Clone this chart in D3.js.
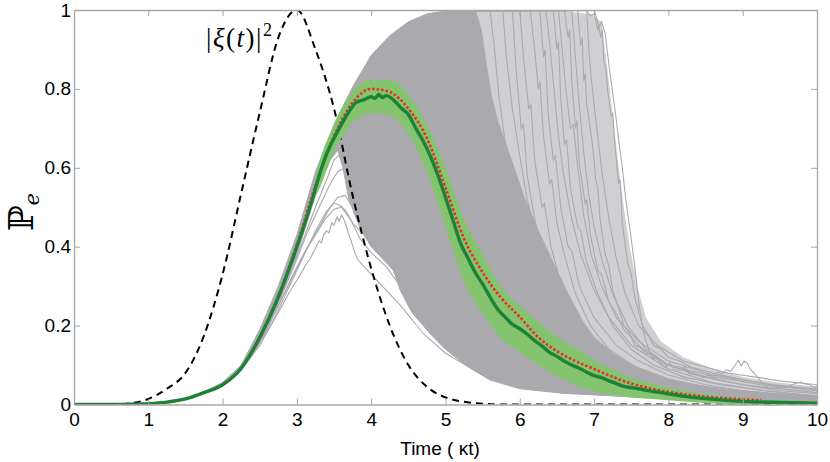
<!DOCTYPE html>
<html>
<head>
<meta charset="utf-8">
<script src="https://cdn.jsdelivr.net/npm/d3@7/dist/d3.min.js"></script>
<style>
  body { margin: 0; background: #fff; }
</style>
</head>
<body>
<div id="chart"></div>
<script>
var width = 830;
var height = 462;

// photon pulse |xi(t)|^2 (dashed)
var xiTime = [0, 0.25, 0.5, 0.75, 1, 1.25, 1.5, 1.75, 2, 2.25, 2.5, 2.75, 3, 3.25, 3.5, 3.75, 4, 4.25, 4.5, 4.75, 5, 5.25, 5.5, 5.75, 6, 7, 8, 9, 10];
var xiVal = [0, 0, 0, 0.003, 0.014, 0.04, 0.08, 0.175, 0.33, 0.535, 0.74, 0.93, 1.0, 0.9, 0.75, 0.53, 0.345, 0.2, 0.1, 0.045, 0.018, 0.007, 0.002, 0, 0, 0, 0, 0, 0];

// ensemble average of the trajectories (dark green)
var meanTime = [0, 0.5, 0.75, 1, 1.25, 1.5, 1.75, 2, 2.25, 2.5, 2.75, 3.0, 3.1, 3.2, 3.3, 3.4, 3.5, 3.6, 3.7, 3.8, 3.9, 4.0, 4.05, 4.1, 4.15, 4.2, 4.3, 4.4, 4.5, 4.6, 4.7, 4.8, 4.9, 5.0, 5.1, 5.2, 5.3, 5.4, 5.5, 5.6, 5.7, 5.8, 5.9, 6.0, 6.1, 6.2, 6.3, 6.4, 6.5, 6.6, 6.7, 6.8, 6.9, 7.0, 7.1, 7.2, 7.3, 7.4, 7.5, 7.6, 7.7, 7.8, 7.9, 8.0, 8.25, 8.5, 8.75, 9.0, 9.5, 10];
var meanVal = [0, 0, 0.0005, 0.002, 0.006, 0.014, 0.03, 0.05, 0.092, 0.17, 0.272, 0.4, 0.455, 0.515, 0.58, 0.635, 0.675, 0.71, 0.742, 0.766, 0.772, 0.78, 0.776, 0.786, 0.778, 0.783, 0.772, 0.752, 0.735, 0.7, 0.668, 0.628, 0.58, 0.525, 0.468, 0.41, 0.372, 0.335, 0.305, 0.272, 0.242, 0.222, 0.203, 0.192, 0.178, 0.162, 0.148, 0.132, 0.122, 0.11, 0.1, 0.092, 0.082, 0.073, 0.068, 0.06, 0.053, 0.046, 0.043, 0.04, 0.036, 0.033, 0.03, 0.027, 0.02, 0.015, 0.011, 0.008, 0.005, 0.003];

// spread around the average (light green band half width)
var bandTime = [3.2, 3.25, 3.5, 3.75, 4.0, 4.25, 4.5, 4.75, 5.0, 5.25, 5.5, 5.75, 6.0, 6.25, 6.5, 6.75, 7.0, 7.25, 7.5, 7.75, 8.0, 8.5, 9.0, 9.5, 10];
var bandHalf = [0, 0.02, 0.035, 0.04, 0.042, 0.045, 0.05, 0.06, 0.075, 0.08, 0.075, 0.065, 0.058, 0.055, 0.05, 0.047, 0.04, 0.032, 0.025, 0.02, 0.016, 0.011, 0.008, 0.006, 0.005];

// analytic result (red dotted)
var exactTime = [0, 0.25, 0.5, 0.75, 1, 1.25, 1.5, 1.75, 2, 2.25, 2.5, 2.75, 3, 3.25, 3.5, 3.75, 4, 4.25, 4.5, 4.75, 5, 5.25, 5.5, 5.75, 6, 6.25, 6.5, 6.75, 7, 7.25, 7.5, 7.75, 8, 8.25, 8.5, 8.75, 9, 9.25];
var exactVal = [0, 0, 0, 0.0005, 0.002, 0.006, 0.014, 0.03, 0.05, 0.092, 0.17, 0.275, 0.405, 0.555, 0.68, 0.765, 0.8, 0.792, 0.75, 0.675, 0.55, 0.42, 0.335, 0.27, 0.222, 0.17, 0.135, 0.11, 0.09, 0.07, 0.053, 0.041, 0.032, 0.025, 0.02, 0.016, 0.013, 0.011];

// dense part of the trajectory bundle: upper and lower edges
var denseTop = [[0, 0], [0.5, 0], [1, 0.0025], [1.25, 0.007], [1.5, 0.016], [1.75, 0.032], [2, 0.056], [2.25, 0.1], [2.5, 0.19], [2.75, 0.3], [3, 0.43], [3.25, 0.59], [3.5, 0.71], [3.75, 0.805], [4, 0.885], [4.25, 0.935], [4.5, 0.97], [4.75, 0.99], [5, 0.998], [5.4, 1.0], [5.48, 0.95], [5.55, 0.86], [5.62, 0.78], [5.7, 0.72], [5.85, 0.64], [6.05, 0.53], [6.25, 0.44], [6.45, 0.36], [6.65, 0.28], [6.85, 0.21], [7.0, 0.17], [7.25, 0.13], [7.5, 0.1], [8, 0.065], [8.5, 0.045], [9, 0.035], [9.5, 0.027], [10, 0.02]];
var denseBottom = [[0, 0], [1, 0.001], [1.5, 0.012], [2, 0.047], [2.25, 0.085], [2.5, 0.16], [2.75, 0.26], [3.0, 0.38], [3.25, 0.53], [3.45, 0.62], [3.55, 0.645], [3.62, 0.6], [3.7, 0.52], [3.8, 0.47], [3.9, 0.43], [4.0, 0.4], [4.15, 0.37], [4.3, 0.34], [4.39, 0.29], [4.5, 0.25], [4.56, 0.23], [4.7, 0.2], [4.79, 0.18], [5.0, 0.14], [5.29, 0.097], [5.6, 0.062], [6.0, 0.04], [6.6, 0.028], [7.5, 0.02], [8.5, 0.012], [9.5, 0.008], [10, 0.006]];

// outer edge of the thinner zone where trajectories fall after a late jump
var looseEdge = [[5.4, 1.0], [6.2, 1.0], [6.6, 0.997], [6.95, 0.99], [7.1, 0.97], [7.16, 0.88], [7.24, 0.75], [7.32, 0.62], [7.4, 0.5], [7.48, 0.4], [7.58, 0.3], [7.7, 0.22], [7.9, 0.16], [8.2, 0.12], [8.6, 0.09], [9.0, 0.07], [9.5, 0.055], [10, 0.045]];

// single trajectories that stick out of the bundle
var earlyJumps = [
  [[2.1, 0.06], [2.3, 0.1], [2.5, 0.15], [2.65, 0.2], [2.8, 0.25], [2.9, 0.285], [3.0, 0.315], [3.08, 0.34], [3.12, 0.355], [3.18, 0.37], [3.22, 0.385], [3.26, 0.4], [3.3, 0.415], [3.33, 0.41], [3.36, 0.43], [3.4, 0.44], [3.43, 0.435], [3.47, 0.46], [3.5, 0.455], [3.54, 0.475], [3.57, 0.465], [3.6, 0.48], [3.63, 0.47], [3.66, 0.455], [3.7, 0.43], [3.73, 0.415], [3.77, 0.39], [3.81, 0.37], [3.85, 0.36], [3.9, 0.35], [4.0, 0.33], [4.2, 0.29], [4.4, 0.25], [4.7, 0.18], [5.0, 0.13], [5.5, 0.075], [6, 0.048], [7, 0.025], [8, 0.014], [9, 0.008], [10, 0.004]],
  [[2.15, 0.07], [2.4, 0.125], [2.6, 0.19], [2.8, 0.27], [3.0, 0.345], [3.15, 0.4], [3.3, 0.45], [3.45, 0.5], [3.55, 0.525], [3.65, 0.53], [3.75, 0.5], [3.85, 0.46], [3.95, 0.43], [4.1, 0.39], [4.3, 0.34], [4.5, 0.28], [4.8, 0.2], [5.2, 0.13], [6, 0.06], [7, 0.03], [8, 0.016], [10, 0.005]],
  [[2.2, 0.08], [2.45, 0.14], [2.7, 0.235], [2.95, 0.345], [3.15, 0.44], [3.3, 0.5], [3.45, 0.56], [3.55, 0.59], [3.65, 0.6], [3.75, 0.57], [3.85, 0.52], [4.0, 0.47], [4.2, 0.41], [4.4, 0.36], [4.6, 0.3], [5.0, 0.2], [5.5, 0.12], [6.2, 0.06], [7.5, 0.025], [10, 0.006]],
  [[2.25, 0.09], [2.5, 0.16], [2.75, 0.25], [2.95, 0.33], [3.1, 0.385], [3.25, 0.43], [3.38, 0.47], [3.5, 0.495], [3.6, 0.5], [3.72, 0.47], [3.85, 0.42], [4.0, 0.385], [4.2, 0.35], [4.39, 0.3], [4.6, 0.26], [4.9, 0.2], [5.3, 0.14], [6, 0.075], [7, 0.035], [8.5, 0.015], [10, 0.007]],
  [[2.3, 0.11], [2.55, 0.18], [2.8, 0.28], [3.05, 0.4], [3.25, 0.5], [3.4, 0.57], [3.5, 0.62], [3.62, 0.64], [3.75, 0.6], [3.9, 0.55], [4.1, 0.5]],
  [[2.4, 0.13], [2.65, 0.2], [2.9, 0.3], [3.1, 0.38], [3.25, 0.44], [3.4, 0.49], [3.5, 0.51], [3.58, 0.505], [3.66, 0.49], [3.75, 0.46], [3.85, 0.44], [4.0, 0.42], [4.15, 0.38], [4.3, 0.36], [4.45, 0.3], [4.6, 0.27]]
];

var lateJumps = [
  [[5, 0.998], [6, 1], [6.9, 0.998], [6.95, 0.985], [7.0, 0.99], [7.05, 0.95], [7.1, 0.97], [7.15, 0.94], [7.2, 0.86], [7.25, 0.79], [7.3, 0.72], [7.33, 0.67], [7.38, 0.6], [7.42, 0.53], [7.47, 0.46], [7.52, 0.39], [7.56, 0.33], [7.6, 0.26], [7.64, 0.21], [7.68, 0.17], [7.71, 0.155], [7.75, 0.13], [7.8, 0.115], [7.85, 0.12], [7.9, 0.1], [7.96, 0.095], [8.02, 0.105], [8.08, 0.088], [8.16, 0.087], [8.22, 0.095], [8.28, 0.078], [8.35, 0.076], [8.42, 0.072], [8.47, 0.068], [8.54, 0.075], [8.6, 0.072], [8.66, 0.082], [8.72, 0.079], [8.78, 0.088], [8.84, 0.084], [8.9, 0.1], [8.94, 0.112], [8.98, 0.098], [9.02, 0.11], [9.06, 0.105], [9.1, 0.09], [9.16, 0.078], [9.22, 0.064], [9.28, 0.05], [9.34, 0.043], [9.42, 0.041], [9.5, 0.044], [9.58, 0.042], [9.66, 0.05], [9.72, 0.054], [9.78, 0.057], [9.84, 0.052], [9.9, 0.05], [9.96, 0.044], [10, 0.046]],
  [[5, 0.996], [6, 0.998], [6.78, 1.0], [6.8, 0.95], [6.82, 0.91], [6.84, 0.93], [6.86, 0.82], [6.88, 0.84], [6.9, 0.76], [6.94, 0.71], [6.97, 0.67], [7.0, 0.62], [7.02, 0.57], [7.05, 0.55], [7.08, 0.47], [7.15, 0.38], [7.2, 0.35], [7.25, 0.29], [7.32, 0.25], [7.4, 0.2], [7.48, 0.18], [7.55, 0.15], [7.62, 0.145], [7.7, 0.13], [7.8, 0.125], [7.9, 0.105], [8, 0.1], [8.15, 0.095], [8.3, 0.085], [8.45, 0.08], [8.6, 0.07], [8.8, 0.065], [9, 0.058], [9.25, 0.05], [9.5, 0.045], [9.75, 0.04], [10, 0.035]],
  [[5, 0.997], [6, 0.999], [7.0, 1.0], [7.05, 0.97], [7.09, 0.93], [7.11, 0.95], [7.13, 0.87], [7.16, 0.85], [7.18, 0.8], [7.23, 0.73], [7.25, 0.74], [7.28, 0.66], [7.33, 0.56], [7.35, 0.57], [7.38, 0.46], [7.45, 0.36], [7.5, 0.33], [7.55, 0.27], [7.65, 0.2], [7.72, 0.18], [7.8, 0.15], [7.9, 0.14], [8, 0.12], [8.15, 0.11], [8.3, 0.095], [8.5, 0.085], [8.7, 0.075], [8.95, 0.065], [9.2, 0.055], [9.6, 0.045], [10, 0.037]],
  [[5, 0.995], [6.6, 1.0], [6.65, 0.93], [6.67, 0.95], [6.7, 0.82], [6.75, 0.7], [6.77, 0.72], [6.8, 0.61], [6.88, 0.51], [6.9, 0.52], [6.95, 0.43], [7.05, 0.34], [7.1, 0.33], [7.2, 0.26], [7.3, 0.23], [7.4, 0.19], [7.6, 0.15], [7.8, 0.12], [8.0, 0.1], [8.3, 0.08], [8.6, 0.065], [9, 0.05], [9.5, 0.035], [10, 0.028]],
  [[5, 0.995], [6.45, 1.0], [6.5, 0.9], [6.52, 0.92], [6.55, 0.78], [6.6, 0.66], [6.63, 0.67], [6.68, 0.55], [6.78, 0.45], [6.82, 0.44], [6.9, 0.36], [7.05, 0.28], [7.25, 0.2], [7.5, 0.14], [7.8, 0.1], [8.2, 0.07], [8.7, 0.05], [9.3, 0.035], [10, 0.022]],
  [[5, 0.996], [6.27, 1.0], [6.32, 0.88], [6.34, 0.9], [6.38, 0.74], [6.45, 0.62], [6.48, 0.63], [6.55, 0.5], [6.65, 0.4], [6.7, 0.39], [6.8, 0.3], [7.0, 0.22], [7.3, 0.15], [7.6, 0.11], [8, 0.075], [8.5, 0.05], [9, 0.035], [10, 0.018]],
  [[5, 0.997], [6.14, 1.0], [6.2, 0.9], [6.25, 0.8], [6.27, 0.82], [6.32, 0.68], [6.4, 0.56], [6.43, 0.57], [6.5, 0.46], [6.6, 0.38], [6.75, 0.28], [6.95, 0.2], [7.2, 0.14], [7.6, 0.09], [8, 0.06], [8.6, 0.04], [9.3, 0.025], [10, 0.015]],
  [[5, 0.998], [6.0, 1.0], [6.05, 0.88], [6.12, 0.75], [6.15, 0.76], [6.2, 0.62], [6.3, 0.5], [6.33, 0.51], [6.42, 0.4], [6.55, 0.31], [6.75, 0.22], [7.0, 0.15], [7.4, 0.1], [8, 0.06], [9, 0.03], [10, 0.014]],
  [[5, 0.998], [5.9, 1.0], [5.95, 0.85], [6.02, 0.7], [6.05, 0.71], [6.1, 0.58], [6.2, 0.47], [6.35, 0.36], [6.5, 0.28], [6.7, 0.2], [7.0, 0.13], [7.5, 0.08], [8, 0.05], [9, 0.025], [10, 0.012]],
  [[5, 0.999], [5.77, 1.0], [5.82, 0.88], [5.9, 0.75], [6.0, 0.63], [6.1, 0.52], [6.25, 0.4], [6.4, 0.31], [6.6, 0.22], [6.9, 0.14], [7.3, 0.09], [8, 0.05], [9, 0.025], [10, 0.012]],
  [[5, 0.997], [6.7, 0.998], [6.74, 0.9], [6.8, 0.76], [6.86, 0.64], [6.93, 0.53], [7.0, 0.45], [7.1, 0.37], [7.25, 0.28], [7.45, 0.2], [7.7, 0.14], [8, 0.1], [8.5, 0.07], [9, 0.05], [10, 0.03]],
  [[5, 0.996], [6.35, 0.999], [6.4, 0.92], [6.46, 0.8], [6.52, 0.68], [6.6, 0.57], [6.7, 0.47], [6.82, 0.38], [7.0, 0.29], [7.2, 0.22], [7.5, 0.15], [8, 0.09], [8.6, 0.055], [9.3, 0.035], [10, 0.02]],
  [[5, 0.999], [5.6, 1.0], [5.66, 0.9], [5.72, 0.78], [5.8, 0.67], [5.9, 0.56], [6.02, 0.46], [6.18, 0.37], [6.35, 0.29], [6.6, 0.2], [6.9, 0.13], [7.4, 0.08], [8, 0.05], [9, 0.022], [10, 0.01]],
  [[5, 0.998], [6.52, 1.0], [6.57, 0.9], [6.62, 0.8], [6.68, 0.7], [6.72, 0.71], [6.78, 0.6], [6.86, 0.48], [6.96, 0.38], [7.1, 0.3], [7.3, 0.22], [7.6, 0.16], [8, 0.11], [8.6, 0.075], [9.4, 0.05], [10, 0.04]],
  [[5, 0.999], [6.9, 1.0], [6.93, 0.9], [6.96, 0.83], [7.0, 0.76], [7.06, 0.66], [7.12, 0.57], [7.2, 0.47], [7.3, 0.37], [7.42, 0.28], [7.6, 0.2], [7.85, 0.15], [8.2, 0.11], [8.8, 0.08], [9.5, 0.06], [10, 0.05]]
];

var xTicks = [0, 1, 2, 3, 4, 5, 6, 7, 8, 9, 10];
var yTicks = [0, 0.2, 0.4, 0.6, 0.8, 1];

var x = d3.scaleLinear().domain([0, 10]).range([74, 817]);
var y = d3.scaleLinear().domain([0, 1]).range([404.5, 10]);

var gray = "#a9a9ae";
var axisColor = "#a6a6a6";

var svg = d3.select("#chart").append("svg")
    .attr("width", width)
    .attr("height", height)
    .style("display", "block");

svg.append("clipPath").attr("id", "plotclip")
  .append("rect")
    .attr("x", x(0)).attr("y", y(1))
    .attr("width", x(10) - x(0)).attr("height", y(0) - y(1));

var plot = svg.append("g").attr("clip-path", "url(#plotclip)");

var line = d3.line()
    .x(function (d) { return x(d[0]); })
    .y(function (d) { return y(d[1]); });
var smooth = d3.line()
    .x(function (d) { return x(d[0]); })
    .y(function (d) { return y(d[1]); })
    .curve(d3.curveMonotoneX);

// thinner zone of late jumps, then the dense bundle
var looseZone = looseEdge.concat(denseTop.filter(function (d) { return d[0] >= 5.4; }).reverse());
plot.append("path")
    .attr("d", line(looseZone) + "Z")
    .attr("fill", gray)
    .attr("fill-opacity", 0.55)
    .attr("stroke", "none");

var bundle = denseTop.concat(denseBottom.slice().reverse());
plot.append("path")
    .attr("d", line(bundle) + "Z")
    .attr("fill", gray)
    .attr("stroke", gray)
    .attr("stroke-width", 1);

earlyJumps.concat(lateJumps).forEach(function (traj) {
    plot.append("path")
        .attr("d", line(traj))
        .attr("fill", "none")
        .attr("stroke", gray)
        .attr("stroke-width", 1.1);
});

// photon pulse shape
plot.append("path")
    .attr("d", smooth(d3.zip(xiTime, xiVal)))
    .attr("fill", "none")
    .attr("stroke", "#000")
    .attr("stroke-width", 2)
    .attr("stroke-dasharray", "7,5");

// spread band
var meanAt = d3.scaleLinear().domain(meanTime).range(meanVal);
var band = d3.area()
    .x(function (d) { return x(d[0]); })
    .y0(function (d) { return y(Math.max(0, meanAt(d[0]) - d[1])); })
    .y1(function (d) { return y(meanAt(d[0]) + d[1]); })
    .curve(d3.curveMonotoneX);
plot.append("path")
    .attr("d", band(d3.zip(bandTime, bandHalf)))
    .attr("fill", "#84c46f")
    .attr("stroke", "none");

// analytic curve
plot.append("path")
    .attr("d", smooth(d3.zip(exactTime, exactVal)))
    .attr("fill", "none")
    .attr("stroke", "#ee2a24")
    .attr("stroke-width", 2.6)
    .attr("stroke-dasharray", "2.5,2");

// average
plot.append("path")
    .attr("d", smooth(d3.zip(meanTime, meanVal)))
    .attr("fill", "none")
    .attr("stroke", "#1c8236")
    .attr("stroke-width", 3.4)
    .attr("stroke-linejoin", "round");

// axes
var fmt = d3.format("~g");
var xAxis = svg.append("g")
    .attr("transform", "translate(0," + y(0) + ")")
    .call(d3.axisBottom(x).tickValues(xTicks).tickFormat(fmt).tickSize(-6).tickSizeOuter(0).tickPadding(8));
var yAxis = svg.append("g")
    .attr("transform", "translate(" + x(0) + ",0)")
    .call(d3.axisLeft(y).tickValues(yTicks).tickFormat(fmt).tickSize(-6).tickSizeOuter(0).tickPadding(3));
var topAxis = svg.append("g")
    .attr("transform", "translate(0," + y(1) + ")")
    .call(d3.axisTop(x).tickValues(xTicks).tickFormat("").tickSize(-6).tickSizeOuter(0));
var rightAxis = svg.append("g")
    .attr("transform", "translate(" + x(10) + ",0)")
    .call(d3.axisRight(y).tickValues(yTicks).tickFormat("").tickSize(-6).tickSizeOuter(0));

[xAxis, yAxis, topAxis, rightAxis].forEach(function (g) {
    g.select(".domain").attr("stroke", axisColor).attr("stroke-width", 1.3);
    g.selectAll(".tick line").attr("stroke", axisColor).attr("stroke-width", 1);
    g.selectAll(".tick text")
        .attr("fill", "#000")
        .style("font-family", "'Liberation Sans', Arial, sans-serif")
        .style("font-size", "19px");
});
xAxis.selectAll(".tick line").filter(function (d) { return d === 0 || d === 10; }).remove();
yAxis.selectAll(".tick line").filter(function (d) { return d === 0 || d === 1; }).remove();

// axis titles
svg.append("text")
    .attr("x", 440)
    .attr("y", 455)
    .attr("text-anchor", "middle")
    .style("font-family", "'Liberation Sans', Arial, sans-serif")
    .style("font-size", "19px")
    .text("Time ( \u03bat)");

var ylab = svg.append("text")
    .attr("transform", "translate(33,231) rotate(-90)")
    .style("font-family", "'DejaVu Serif', 'DejaVu Sans', serif")
    .style("font-size", "34px")
    .text("\u2119");
ylab.append("tspan")
    .attr("dy", 6)
    .style("font-size", "21px")
    .style("font-style", "italic")
    .text("e");

// pulse label
var xiLab = svg.append("text")
    .attr("x", 206)
    .attr("y", 47)
    .style("font-family", "'Liberation Serif', 'Times New Roman', serif")
    .style("font-size", "27px")
    .style("letter-spacing", "1.5px");
xiLab.append("tspan").text("|");
xiLab.append("tspan").style("font-style", "italic").text("\u03be");
xiLab.append("tspan").text("(");
xiLab.append("tspan").style("font-style", "italic").text("t");
xiLab.append("tspan").text(")|");
xiLab.append("tspan").attr("dy", -11).style("font-size", "18px").text("2");
</script>
</body>
</html>
